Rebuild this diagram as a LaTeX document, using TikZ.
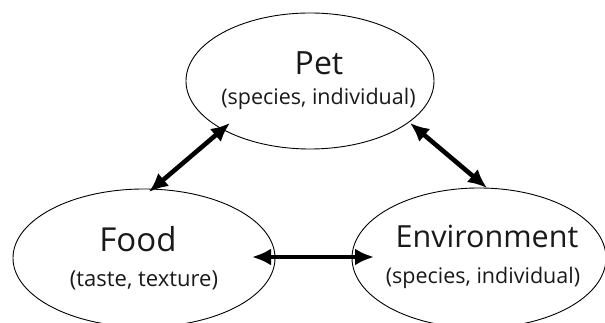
\documentclass[tikz,border=0pt]{standalone}
\usepackage{fontspec}
\setmainfont{Open Sans}
\usetikzlibrary{arrows.meta,shapes.geometric}
\tikzset{
    topic/.style = {draw, ellipse, line width=0.9pt, inner sep=0pt},
    title/.style = {anchor=base, inner sep=0pt, text=black!90, font=\fontsize{32}{38}\selectfont},
    note/.style = {anchor=base, inner sep=0pt, text=black!90, font=\fontsize{21.5}{26}\selectfont},
    link/.style = {draw, {Latex[length=19pt,width=17pt]}-{Latex[length=19pt,width=17pt]}, line width=4.6pt}
}

\begin{document}
\begin{tikzpicture}[x=1pt,y=1pt]
    \useasboundingbox (0,0) rectangle (605,323);
    \clip (0,0) rectangle (605,323);
    \node [topic, minimum width=248pt, minimum height=136pt] (pet) at (310,242) {};
    \node [topic, minimum width=262pt, minimum height=138pt] (food) at (144,65) {};
    \node [topic, minimum width=254pt, minimum height=140pt] (env) at (479,65) {};
    \node [title] (pettitle) at ([shift={(9,6)}]pet.center) {Pet};
    \node [note] (petnote) at ([shift={(8.5,-24)}]pet.center) {(species, individual)};
    \node [title, font=\fontsize{33}{38}\selectfont] (foodtitle) at ([shift={(-6,6)}]food.center) {Food};
    \node [note, font=\fontsize{22}{26}\selectfont] (foodnote) at ([shift={(0,-29)}]food.center) {(taste, texture)};
    \node [title, font=\fontsize{30.5}{36}\selectfont] (envtitle) at ([shift={(8,10)}]env.center) {Environment};
    \node [note] (envnote) at ([shift={(4,-26)}]env.center) {(species, individual)};
    \draw [link] ([shift={(-80,-42)}]pet.center) -- ([shift={(5,66)}]food.center);
    \draw [link] ([shift={(100,-42)}]pet.center) -- ([shift={(8,70)}]env.center);
    \draw [link] ([shift={(108,1)}]food.center) -- ([shift={(-105,1)}]env.center);
\end{tikzpicture}
\end{document}
